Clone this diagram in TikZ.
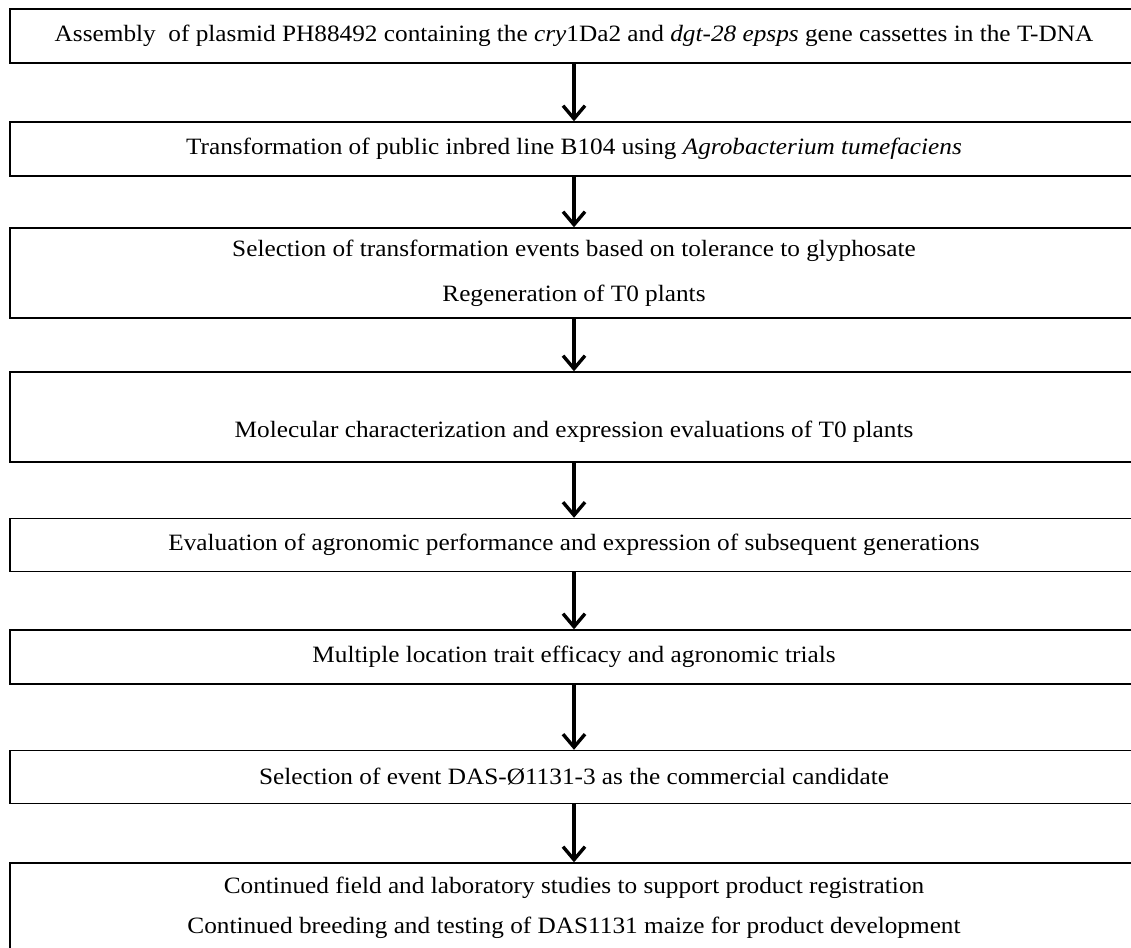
\documentclass[tikz,border=0pt]{standalone}
\usepackage{fontspec}
\setmainfont[FakeStretch=1.08]{Liberation Serif}
\usetikzlibrary{arrows.meta}
\begin{document}
\begin{tikzpicture}[x=1pt,y=-1pt]
        \tikzset{stage/.style={draw, line width=1.4pt, minimum width=1128pt, inner sep=0pt, align=center, font=\fontsize{23.4}{45}\selectfont},
                 flow/.style={-{Straight Barb[length=13pt,width=22pt]}, line width=3.4pt}}
        \useasboundingbox (0,0) rectangle (1131,947);
        \node[stage, minimum height=54pt] (assembly) at (574,36) {Assembly\ \ of plasmid PH88492 containing the \textit{cry}1Da2 and \textit{dgt-28 epsps} gene cassettes in the T-DNA};
        \node[stage, minimum height=54pt] (transform) at (574,149) {Transformation of public inbred line B104 using \textit{Agrobacterium tumefaciens}};
        \node[stage, minimum height=90pt] (select) at (574,273) {Selection of transformation events based on tolerance to glyphosate\\Regeneration of T0 plants};
        \node[stage, minimum height=90pt] (molecular) at (574,417) {\mbox{}\\Molecular characterization and expression evaluations of T0 plants};
        \node[stage, minimum height=53pt] (agronomic) at (574,545) {Evaluation of agronomic performance and expression of subsequent generations};
        \node[stage, minimum height=54pt] (trials) at (574,657) {Multiple location trait efficacy and agronomic trials};
        \node[stage, minimum height=53pt] (event) at (574,777) {Selection of event DAS-Ø1131-3 as the commercial candidate};
        \node[stage, minimum height=90pt, font=\fontsize{23.4}{40}\selectfont] (studies) at (574,908) {Continued field and laboratory studies to support product registration\\Continued breeding and testing of DAS1131 maize for product development};
        % arrows between stages
        \foreach \a/\b in {assembly/transform, transform/select, select/molecular, molecular/agronomic, agronomic/trials, trials/event, event/studies}
                \draw[flow] (\a.south) -- (\b.north);
\end{tikzpicture}
\end{document}
